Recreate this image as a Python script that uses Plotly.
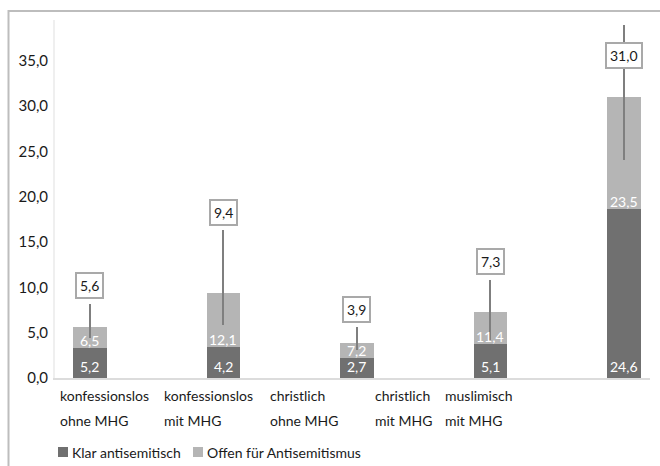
import plotly.graph_objects as go

# ---- data ----
categories_l1 = ["konfessionslos", "konfessionslos", "christlich", "christlich", "muslimisch"]
categories_l2 = ["ohne MHG", "mit MHG", "ohne MHG", "mit MHG", "mit MHG"]
series_names = ["Klar antisemitisch", "Offen für Antisemitismus"]
klar = [3.3, 3.4, 2.2, 3.8, 18.7]            # dark segment heights
offen = [2.3, 6.0, 1.7, 3.5, 12.3]           # light segment heights
klar_labels = ["5,2", "4,2", "2,7", "5,1", "24,6"]
offen_labels = ["6,5", "12,1", "7,2", "11,4", "23,5"]
total_labels = ["5,6", "9,4", "3,9", "7,3", "31,0"]
err_plus = [2.6, 6.9, 1.7, 3.5, 8.0]
err_minus = [1.2, 3.6, 0.8, 3.1, 7.0]
ytick_vals = [0, 5, 10, 15, 20, 25, 30, 35]

# ---- layout constants ----
W, H = 660, 466
ML, MR, MT, MB = 55, 10, 20, 88
PW, PH = W - ML - MR, H - MT - MB
YMAX = 39.5
XR = [-0.262, 4.195]
FONT = "Lato"
DARK = "#707070"
LIGHT = "#b5b5b5"
TXT = "#1a1a1a"
label_px = [58, 162, 268, 373, 443]


def px_x(p):
    return (p - ML) / PW


def px_y(p):
    return (H - MB - p) / PH


xs = list(range(len(klar)))

fig = go.Figure()
fig.add_trace(go.Bar(x=xs, y=klar, name=series_names[0], marker_color=DARK,
                     marker_line_width=0, width=0.25, showlegend=False))
fig.add_trace(go.Bar(x=xs, y=offen, name=series_names[1], marker_color=LIGHT,
                     marker_line_width=0, width=0.25, showlegend=False,
                     error_y=dict(type="data", symmetric=False, array=err_plus,
                                  arrayminus=err_minus, color="#7f7f7f",
                                  thickness=2, width=0)))

ann = []
for i in xs:
    tot = klar[i] + offen[i]
    ann.append(dict(x=i, y=0, text=klar_labels[i], showarrow=False, yanchor="bottom",
                    yshift=1, font=dict(color="white", size=14, family=FONT)))
    ann.append(dict(x=i, y=klar[i], text=offen_labels[i], showarrow=False, yanchor="bottom",
                    yshift=-3, font=dict(color="white", size=14, family=FONT)))
    by = min(tot + err_plus[i] + 2.0, YMAX - 3.9)
    ann.append(dict(x=i, y=by, text=total_labels[i], showarrow=False, yanchor="middle",
                    bgcolor="white", bordercolor="#a9a9a9", borderwidth=2, borderpad=3,
                    font=dict(color=TXT, size=14, family=FONT)))
    ann.append(dict(xref="paper", yref="paper", x=px_x(label_px[i]), y=px_y(395),
                    text=categories_l1[i], showarrow=False, xanchor="left", yanchor="middle",
                    font=dict(color=TXT, size=14, family=FONT)))
    ann.append(dict(xref="paper", yref="paper", x=px_x(label_px[i]), y=px_y(420),
                    text=categories_l2[i], showarrow=False, xanchor="left", yanchor="middle",
                    font=dict(color=TXT, size=14, family=FONT)))

# manual legend (squares + text)
shapes = [dict(type="rect", xref="paper", yref="paper",
               x0=px_x(8.5), x1=1.2, y0=-0.6, y1=px_y(11),
               line=dict(color="#bdbdbd", width=2), layer="below")]
legend_sq = [58, 193]
legend_col = [DARK, LIGHT]
for k in range(2):
    shapes.append(dict(type="rect", xref="paper", yref="paper",
                       x0=px_x(legend_sq[k]), x1=px_x(legend_sq[k] + 10),
                       y0=px_y(457), y1=px_y(447),
                       fillcolor=legend_col[k], line=dict(width=0)))
    ann.append(dict(xref="paper", yref="paper", x=px_x(legend_sq[k] + 12), y=px_y(452),
                    text=series_names[k], showarrow=False, xanchor="left", yanchor="middle",
                    font=dict(color=TXT, size=14, family=FONT)))

fig.update_layout(
    width=W, height=H,
    margin=dict(l=ML, r=MR, t=MT, b=MB),
    paper_bgcolor="white", plot_bgcolor="white",
    barmode="stack",
    separators=",.",
    font=dict(family=FONT, size=14, color=TXT),
    showlegend=False,
    xaxis=dict(range=XR, showticklabels=False, ticks="", showgrid=False, zeroline=False,
               showline=True, linecolor="#dcdcdc", linewidth=2, automargin=False),
    yaxis=dict(range=[0, YMAX], tickvals=ytick_vals, tickformat=".1f", showgrid=False,
               zeroline=False, showline=True, linecolor="#efefef", linewidth=2,
               ticks="", ticklabelstandoff=2, automargin=False,
               tickfont=dict(size=15, family=FONT, color=TXT)),
    annotations=ann,
    shapes=shapes,
)

fig.write_html("out.html", config={"displayModeBar": False},
               post_script="document.body.style.margin='0';document.body.style.padding='0';")
